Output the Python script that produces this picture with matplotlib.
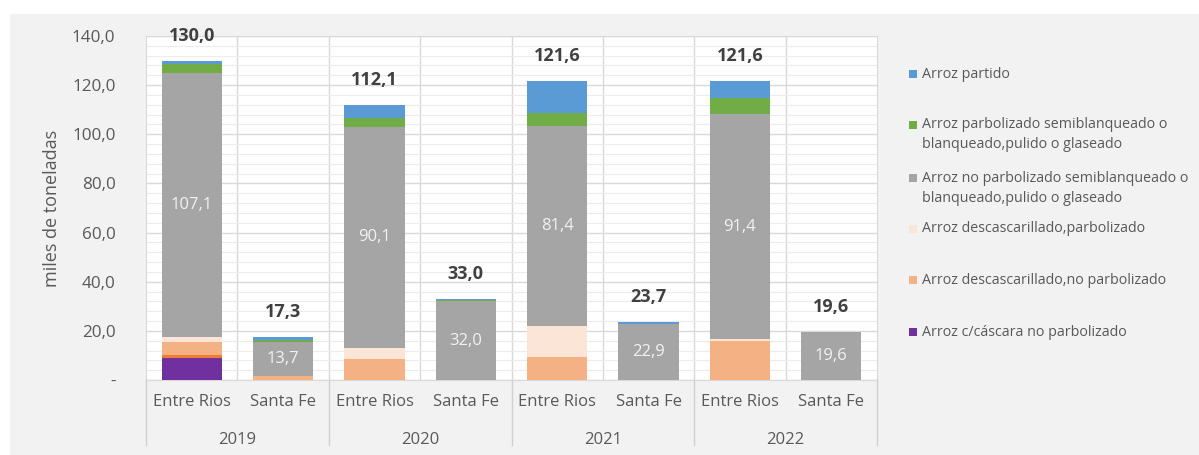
import numpy as np
import matplotlib
matplotlib.use("Agg")
import matplotlib.pyplot as plt
from matplotlib.patches import Rectangle
from matplotlib.ticker import MultipleLocator, FuncFormatter
import matplotlib.transforms as mtransforms

plt.rcParams['font.family'] = ['Open Sans', 'DejaVu Sans']

# categorias (provincia por año)
provincias = ['Entre Rios', 'Santa Fe', 'Entre Rios', 'Santa Fe',
              'Entre Rios', 'Santa Fe', 'Entre Rios', 'Santa Fe']
anios = ['2019', '2020', '2021', '2022']

# miles de toneladas, de abajo hacia arriba en la pila
cascara_no_parb = [9.0, 0, 0, 0, 0, 0, 0, 0]
sin_leyenda = [1.2, 0, 0, 0, 0, 0, 0, 0]
desc_no_parb = [5.4, 1.6, 8.4, 0, 9.3, 0, 16.0, 0]
desc_parb = [2.1, 0, 4.6, 0, 12.7, 0, 0.7, 0]
no_parb_semi = [107.1, 13.7, 90.1, 32.0, 81.4, 22.9, 91.4, 19.6]
parb_semi = [4.0, 0.9, 3.6, 0.4, 5.4, 0, 6.5, 0]
partido = [1.2, 1.1, 5.4, 0.6, 12.8, 0.8, 7.0, 0]

series = [
    (cascara_no_parb, '#7030a0', 'Arroz c/cáscara no parbolizado'),
    (sin_leyenda, '#ed7d31', None),
    (desc_no_parb, '#f4b183', 'Arroz descascarillado,no parbolizado'),
    (desc_parb, '#fbe5d6', 'Arroz descascarillado,parbolizado'),
    (no_parb_semi, '#a5a5a5', 'Arroz no parbolizado semiblanqueado o\nblanqueado,pulido o glaseado'),
    (parb_semi, '#70ad47', 'Arroz parbolizado semiblanqueado o\nblanqueado,pulido o glaseado'),
    (partido, '#5b9bd5', 'Arroz partido'),
]

def coma(v):
    return f'{v:.1f}'.replace('.', ',')

W, H = 1199, 455
fig = plt.figure(figsize=(W / 100, H / 100), dpi=100)
fig.patch.set_facecolor('white')
fig.patches.append(Rectangle((10 / W, 0), 1, 1 - 14 / H, transform=fig.transFigure,
                             facecolor='#f2f2f2', edgecolor='none', zorder=-10))

ax = fig.add_axes([146 / W, 1 - 380 / H, (877 - 146) / W, (380 - 36) / H])
ax.set_facecolor('white')

x = np.arange(len(provincias))
bottom = np.zeros(len(x))
for vals, color, label in series:
    vals = np.array(vals, dtype=float)
    ax.bar(x, vals, 0.66, bottom=bottom, color=color, linewidth=0, zorder=3)
    bottom += vals

# etiquetas de la serie gris
gb = np.array(cascara_no_parb) + np.array(sin_leyenda) + np.array(desc_no_parb) + np.array(desc_parb)
for xi, b, v in zip(x, gb, no_parb_semi):
    ax.text(xi, b + v / 2, coma(v), ha='center', va='center', color='#f2f2f2', fontsize=12, zorder=4)

# totales
for xi, t in zip(x, bottom):
    ax.annotate(coma(t), (xi, t), xytext=(0, 18), textcoords='offset points',
                ha='center', va='center', fontsize=13, fontweight='bold', color='#404040')

ax.set_xlim(-0.5, len(x) - 0.5)
ax.set_ylim(0, 140)
ax.yaxis.set_major_locator(MultipleLocator(20))
ax.yaxis.set_minor_locator(MultipleLocator(4))
ax.yaxis.set_major_formatter(FuncFormatter(lambda v, p: '-' if v == 0 else coma(v)))
ax.grid(axis='y', which='major', color='#d9d9d9', linewidth=1, zorder=0)
ax.grid(axis='y', which='minor', color='#ececec', linewidth=0.8, zorder=0)
for b in np.arange(0.5, len(x) - 0.5, 1):
    ax.axvline(b, color='#d9d9d9', linewidth=1, zorder=1)
ax.tick_params(axis='y', which='both', length=0, labelsize=12.3, labelcolor='#595959', pad=22)
ax.set_xticks(x)
ax.set_xticklabels(provincias)
ax.tick_params(axis='x', length=0, labelsize=12, labelcolor='#595959', pad=10)
for s in ax.spines.values():
    s.set_color('#d9d9d9')
ax.set_ylabel('miles de toneladas', fontsize=13, color='#595959', labelpad=8)

# años y separadores debajo del eje
trans = mtransforms.blended_transform_factory(ax.transData, ax.transAxes)
for i, a in enumerate(anios):
    ax.text(2 * i + 0.5, -0.175, a, transform=trans, ha='center', va='center',
            fontsize=12, color='#595959')
for b in np.arange(-0.5, len(x), 2):
    ax.plot([b, b], [0, -0.19], transform=trans, color='#d0d0d0', linewidth=1, clip_on=False)

# leyenda
ley_y = [74, 125, 178, 229, 280, 332]
entradas = [s for s in series[::-1] if s[2] is not None]
for (vals, color, label), yy in zip(entradas, ley_y):
    fig.patches.append(Rectangle((909 / W, 1 - (yy + 4) / H), 8 / W, 8 / H,
                                 transform=fig.transFigure, facecolor=color, edgecolor='none'))
    for k, linea in enumerate(label.split('\n')):
        fig.text(922 / W, 1 - (yy + 20 * k) / H, linea, ha='left', va='center',
                 fontsize=10.3, color='#595959')

fig.savefig('out.png', dpi=100)
